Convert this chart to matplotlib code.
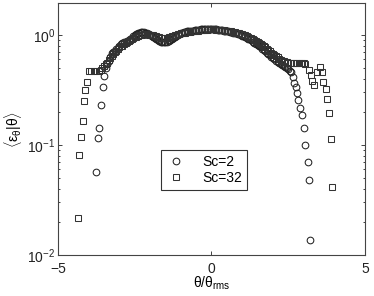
import matplotlib
matplotlib.use("Agg")
import matplotlib.pyplot as plt
from matplotlib.ticker import LogLocator, MultipleLocator, NullFormatter

plt.rcParams['font.family'] = ['Liberation Sans', 'DejaVu Sans']
plt.rcParams['mathtext.fontset'] = 'custom'
plt.rcParams['mathtext.rm'] = 'Liberation Sans'
plt.rcParams['mathtext.it'] = 'Liberation Sans'

labels = ["Sc=2", "Sc=32"]

# Sc=2 (circles)
x_sc2 = [-3.76, -3.70, -3.66, -3.60, -3.54, -3.50,
         -3.45, -3.40, -3.35, -3.30, -3.25, -3.20, -3.15, -3.10, -3.05, -3.00,
         -2.95, -2.90, -2.85, -2.80, -2.75, -2.70, -2.65, -2.60, -2.55, -2.50,
         -2.45, -2.40, -2.35, -2.30, -2.25, -2.20, -2.15, -2.10, -2.05, -2.00,
         -1.95, -1.90, -1.85, -1.80, -1.75, -1.70, -1.65, -1.60, -1.55, -1.50,
         -1.45, -1.40, -1.35, -1.30, -1.25, -1.20, -1.15, -1.10, -1.05, -1.00,
         -0.95, -0.90, -0.85, -0.80, -0.75, -0.70, -0.65, -0.60, -0.55, -0.50,
         -0.45, -0.40, -0.35, -0.30, -0.25, -0.20, -0.15, -0.10, -0.05, 0.00,
         0.05, 0.10, 0.15, 0.20, 0.25, 0.30, 0.35, 0.40, 0.45, 0.50,
         0.55, 0.60, 0.65, 0.70, 0.75, 0.80, 0.85, 0.90, 0.95, 1.00,
         1.05, 1.10, 1.15, 1.20, 1.25, 1.30, 1.35, 1.40, 1.45, 1.50,
         1.55, 1.60, 1.65, 1.70, 1.75, 1.80, 1.85, 1.90, 1.95, 2.00,
         2.05, 2.10, 2.15, 2.20, 2.25, 2.30, 2.35, 2.40, 2.45, 2.50, 2.55,
         2.60, 2.65, 2.69, 2.75, 2.79, 2.82, 2.88, 2.94, 3.00, 3.05, 3.14, 3.17, 3.21]
y_sc2 = [0.057, 0.116, 0.143, 0.231, 0.337, 0.42,
         0.50, 0.54, 0.58, 0.63, 0.68, 0.70, 0.72, 0.74, 0.76, 0.79,
         0.82, 0.84, 0.86, 0.87, 0.88, 0.90, 0.92, 0.945, 0.97, 0.995,
         1.02, 1.035, 1.05, 1.055, 1.06, 1.055, 1.05, 1.035, 1.02, 1.00,
         0.98, 0.96, 0.94, 0.92, 0.90, 0.885, 0.87, 0.865, 0.86, 0.865,
         0.87, 0.885, 0.90, 0.92, 0.94, 0.96, 0.98, 1.00, 1.02, 1.035,
         1.05, 1.06, 1.07, 1.075, 1.08, 1.085, 1.09, 1.095, 1.10, 1.105,
         1.11, 1.115, 1.12, 1.125, 1.13, 1.13, 1.13, 1.13, 1.13, 1.125,
         1.12, 1.12, 1.12, 1.115, 1.11, 1.105, 1.10, 1.095, 1.09, 1.085,
         1.08, 1.07, 1.06, 1.05, 1.04, 1.03, 1.02, 1.01, 1.00, 0.985,
         0.97, 0.955, 0.94, 0.925, 0.91, 0.89, 0.87, 0.85, 0.83, 0.81,
         0.79, 0.77, 0.75, 0.73, 0.71, 0.69, 0.67, 0.65, 0.63, 0.615,
         0.60, 0.585, 0.57, 0.555, 0.54, 0.53, 0.52, 0.51, 0.50, 0.485, 0.47,
         0.46, 0.41, 0.366, 0.337, 0.297, 0.256, 0.217, 0.187, 0.143, 0.10, 0.070, 0.048, 0.0137]

# Sc=32 (squares)
x_sc32 = [-4.35, -4.30, -4.25, -4.20, -4.15, -4.12, -4.05,
          -4.00, -3.92, -3.84, -3.76, -3.68, -3.60,
          -3.55, -3.50, -3.45, -3.40, -3.35, -3.30, -3.25, -3.20, -3.15, -3.10,
          -3.05, -3.00, -2.95, -2.90, -2.85, -2.80, -2.75, -2.70, -2.65, -2.60,
          -2.55, -2.50, -2.45, -2.40, -2.35, -2.30, -2.25, -2.20, -2.15, -2.10,
          -2.05, -2.00, -1.95, -1.90, -1.85, -1.80, -1.75, -1.70, -1.65, -1.60,
          -1.55, -1.50, -1.45, -1.40, -1.35, -1.30, -1.25, -1.20, -1.15, -1.10,
          -1.05, -1.00, -0.95, -0.90, -0.85, -0.80, -0.75, -0.70, -0.65, -0.60,
          -0.55, -0.50, -0.45, -0.40, -0.35, -0.30, -0.25, -0.20, -0.15, -0.10,
          -0.05, 0.00, 0.05, 0.10, 0.15, 0.20, 0.25, 0.30, 0.35, 0.40,
          0.45, 0.50, 0.55, 0.60, 0.65, 0.70, 0.75, 0.80, 0.85, 0.90,
          0.95, 1.00, 1.05, 1.10, 1.15, 1.20, 1.25, 1.30, 1.35, 1.40,
          1.45, 1.50, 1.55, 1.60, 1.65, 1.70, 1.75, 1.80, 1.85, 1.90,
          1.95, 2.00, 2.05, 2.10, 2.15, 2.20, 2.25, 2.30, 2.35, 2.40,
          2.45, 2.50, 2.55, 2.60, 2.65, 2.70, 2.75, 2.80, 2.85, 2.90,
          2.95, 3.00, 3.05,
          3.17, 3.24, 3.28, 3.34, 3.44, 3.53, 3.60, 3.64, 3.73, 3.77, 3.82, 3.90, 3.93]
y_sc32 = [0.0216, 0.081, 0.118, 0.165, 0.251, 0.316, 0.373,
          0.47, 0.47, 0.47, 0.47, 0.47, 0.48,
          0.50, 0.52, 0.54, 0.56, 0.59, 0.62, 0.645, 0.67, 0.695, 0.72,
          0.745, 0.77, 0.785, 0.80, 0.82, 0.84, 0.86, 0.88, 0.90, 0.92,
          0.935, 0.95, 0.965, 0.98, 0.99, 1.00, 1.005, 1.01, 1.01, 1.01,
          1.005, 1.00, 0.995, 0.99, 0.98, 0.97, 0.96, 0.95, 0.945, 0.94,
          0.94, 0.94, 0.945, 0.95, 0.96, 0.97, 0.98, 0.99, 1.00, 1.01,
          1.02, 1.03, 1.035, 1.04, 1.05, 1.06, 1.065, 1.07, 1.075, 1.08,
          1.085, 1.09, 1.095, 1.10, 1.105, 1.11, 1.11, 1.11, 1.115, 1.12,
          1.12, 1.12, 1.12, 1.12, 1.115, 1.11, 1.11, 1.11, 1.105, 1.10,
          1.095, 1.09, 1.085, 1.08, 1.075, 1.07, 1.06, 1.05, 1.04, 1.03,
          1.02, 1.01, 1.00, 0.99, 0.975, 0.96, 0.945, 0.93, 0.915, 0.90,
          0.88, 0.86, 0.845, 0.83, 0.81, 0.79, 0.77, 0.75, 0.73, 0.71,
          0.69, 0.67, 0.655, 0.64, 0.625, 0.61, 0.595, 0.58, 0.575, 0.57,
          0.565, 0.56, 0.56, 0.56, 0.56, 0.56, 0.56, 0.56, 0.56, 0.56,
          0.56, 0.555, 0.54,
          0.48, 0.43, 0.38, 0.35, 0.46, 0.51, 0.46, 0.37, 0.32, 0.26, 0.195, 0.113, 0.0415]

fig = plt.figure(figsize=(3.74, 2.96), dpi=100)
ax = fig.add_axes([0.155, 0.1385, 0.821, 0.8515])

ax.plot(x_sc2, y_sc2, linestyle='none', marker='o', markersize=4.8,
        markerfacecolor='none', markeredgecolor='#222222', markeredgewidth=0.75, label=labels[0])
ax.plot(x_sc32, y_sc32, linestyle='none', marker='s', markersize=3.9,
        markerfacecolor='none', markeredgecolor='#333333', markeredgewidth=0.75, label=labels[1])

ax.set_yscale('log')
ax.set_xlim(-5, 5)
ax.set_ylim(1e-2, 1.95)
ax.xaxis.set_major_locator(MultipleLocator(5))
ax.yaxis.set_major_locator(LogLocator(base=10, numticks=10))
ax.yaxis.set_minor_locator(LogLocator(base=10, subs=range(2, 10), numticks=20))
ax.yaxis.set_minor_formatter(NullFormatter())

ax.tick_params(which='both', direction='in', top=True, right=True, labelsize=10,
               colors='#222222', width=0.6)
ax.tick_params(axis='y', pad=2)
ax.tick_params(axis='x', pad=5)
ax.tick_params(which='major', length=3)
ax.tick_params(which='minor', length=1.6)
for s in ax.spines.values():
    s.set_color('#444444')
    s.set_linewidth(0.8)

ax.set_xlabel(r'$\theta/\theta_{\rm rms}$', fontsize=10, labelpad=-1)
ax.set_ylabel(r'$\langle\epsilon_\theta|\theta\rangle$', fontsize=10, labelpad=2)

leg = ax.legend(loc='upper left', bbox_to_anchor=(0.337, 0.415), fontsize=10,
                frameon=True, fancybox=False, borderpad=0.35, handletextpad=1.2,
                labelspacing=0.15, handlelength=1.4, borderaxespad=0)
leg.get_frame().set_edgecolor('black')
leg.get_frame().set_linewidth(0.8)

fig.savefig('out.png', dpi=100)
